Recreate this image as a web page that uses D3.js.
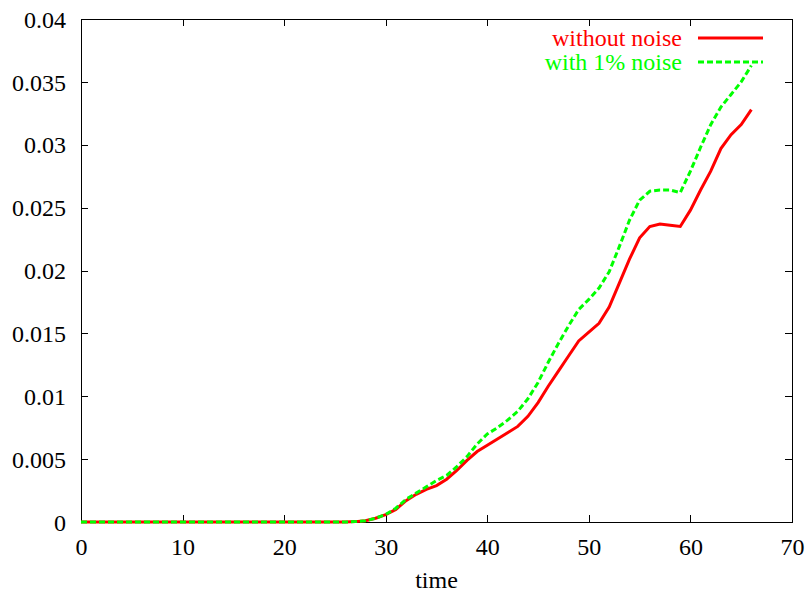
<!DOCTYPE html>
<meta charset="utf-8">
<style>
body { margin: 0; background: #fff; }
svg { display: block; }
.axis path { display: none; }
.axis line { stroke: #000; stroke-width: 1; shape-rendering: crispEdges; }
</style>
<body>
<div id="chart"></div>
<script src="https://cdnjs.cloudflare.com/ajax/libs/d3/7.8.5/d3.min.js"></script>
<script>

// time steps 0..66
var times = d3.range(0, 67);

// without noise (red, solid)
var withoutNoise = [
  0, 0, 0, 0, 0, 0, 0, 0, 0, 0,
  0, 0, 0, 0, 0, 0, 0, 0, 0, 0,
  0, 0, 0, 0, 0, 0, 0, 0.00003, 0.0001, 0.0003,
  0.00058, 0.001, 0.0017, 0.0022, 0.0026, 0.0029, 0.0034, 0.0041, 0.0049, 0.0056,
  0.0061, 0.0066, 0.0071, 0.0076, 0.0084, 0.0095, 0.0108, 0.0120, 0.0132, 0.0144,
  0.0151, 0.0158, 0.0171, 0.0190, 0.0209, 0.0226, 0.0235, 0.0237, 0.0236, 0.0235,
  0.0248, 0.0264, 0.0279, 0.0297, 0.0308, 0.0316, 0.0328
];

// with 1% noise (green, dashed)
var withNoise = [
  0, 0, 0, 0, 0, 0, 0, 0, 0, 0,
  0, 0, 0, 0, 0, 0, 0, 0, 0, 0,
  0, 0, 0, 0, 0, 0, 0, 0.00003, 0.0001, 0.0003,
  0.0006, 0.0011, 0.0018, 0.0023, 0.0028, 0.0033, 0.0037, 0.0044, 0.0052, 0.0062,
  0.0070, 0.0075, 0.0081, 0.0088, 0.0098, 0.0111, 0.0127, 0.0142, 0.0156, 0.0169,
  0.0177, 0.0186, 0.0199, 0.0219, 0.0240, 0.0256, 0.0263, 0.0264, 0.0264, 0.0262,
  0.0279, 0.0298, 0.0316, 0.0330, 0.0340, 0.0350, 0.0363
];

var xTicks = [0, 10, 20, 30, 40, 50, 60, 70];
var yTicks = [0, 0.005, 0.01, 0.015, 0.02, 0.025, 0.03, 0.035, 0.04];
var yTickLabels = ["0", "0.005", "0.01", "0.015", "0.02", "0.025", "0.03", "0.035", "0.04"];

var seriesNames = ["without noise", "with 1% noise"];
var seriesColors = ["#ff0000", "#00ff00"];

var FONT = "'Liberation Serif', 'Times New Roman', serif";
var FSIZE = "24px";

var W = 806, H = 592;
var margin = {top: 19, right: 14, bottom: 70, left: 81};
var width = W - margin.left - margin.right,
    height = H - margin.top - margin.bottom;

var svg = d3.select("#chart").append("svg")
    .attr("width", W)
    .attr("height", H)
  .append("g")
    .attr("transform", "translate(" + margin.left + "," + margin.top + ")");

var x = d3.scaleLinear().domain([0, 70]).range([0, width]);
var y = d3.scaleLinear().domain([0, 0.04]).range([height, 0]);

var tick = 7;

function styleText(sel) {
  sel.attr("font-family", null).attr("font-size", null);
  sel.selectAll("text")
      .style("font-family", FONT)
      .style("font-size", FSIZE)
      .attr("fill", "#000");
}

// bottom axis with labels, ticks pointing in
svg.append("g")
    .attr("class", "axis")
    .attr("transform", "translate(0," + height + ")")
    .call(d3.axisBottom(x).tickValues(xTicks).tickSizeInner(-tick).tickSizeOuter(0).tickPadding(tick + 26))
    .call(styleText)
  .selectAll("text")
    .attr("dy", 0);

// top mirror ticks
svg.append("g")
    .attr("class", "axis")
    .call(d3.axisTop(x).tickValues(xTicks).tickSizeInner(-tick).tickSizeOuter(0).tickFormat(""));

// left axis with labels
svg.append("g")
    .attr("class", "axis")
    .call(d3.axisLeft(y).tickValues(yTicks).tickSizeInner(-tick).tickSizeOuter(0).tickPadding(tick + 8)
      .tickFormat(function(d, i) { return yTickLabels[i]; }))
    .call(styleText)
  .selectAll("text")
    .attr("dy", "0.34em");

// right mirror ticks
svg.append("g")
    .attr("class", "axis")
    .attr("transform", "translate(" + width + ",0)")
    .call(d3.axisRight(y).tickValues(yTicks).tickSizeInner(-tick).tickSizeOuter(0).tickFormat(""));

// border
svg.append("rect")
    .attr("width", width)
    .attr("height", height)
    .attr("fill", "none")
    .attr("stroke", "#000")
    .attr("stroke-width", 1)
    .attr("shape-rendering", "crispEdges");

var line = d3.line()
    .x(function(d) { return x(d[0]); })
    .y(function(d) { return y(d[1]); });

var series = [
  times.map(function(t, i) { return [t, withoutNoise[i]]; }),
  times.map(function(t, i) { return [t, withNoise[i]]; })
];

svg.append("path")
    .datum(series[0])
    .attr("fill", "none")
    .attr("stroke", seriesColors[0])
    .attr("stroke-width", 3)
    .attr("d", line);

svg.append("path")
    .datum(series[1])
    .attr("fill", "none")
    .attr("stroke", seriesColors[1])
    .attr("stroke-width", 3)
    .attr("stroke-dasharray", "6,3")
    .attr("d", line);

// x label
svg.append("text")
    .attr("x", width / 2)
    .attr("y", height + 66)
    .attr("text-anchor", "middle")
    .style("font-family", FONT)
    .style("font-size", FSIZE)
    .text("time");

// legend
var legend = svg.append("g")
    .attr("transform", "translate(" + (width - 29) + ",0)");

seriesNames.forEach(function(name, i) {
  var ly = 19 + i * 24;
  legend.append("text")
      .attr("x", -81)
      .attr("y", ly)
      .attr("dy", "0.34em")
      .attr("text-anchor", "end")
      .style("font-family", FONT)
      .style("font-size", FSIZE)
      .attr("fill", seriesColors[i])
      .text(name);
  legend.append("line")
      .attr("x1", -65)
      .attr("x2", 0)
      .attr("y1", ly)
      .attr("y2", ly)
      .attr("stroke", seriesColors[i])
      .attr("stroke-width", 3)
      .attr("stroke-dasharray", i === 1 ? "6,3" : null);
});

</script>
